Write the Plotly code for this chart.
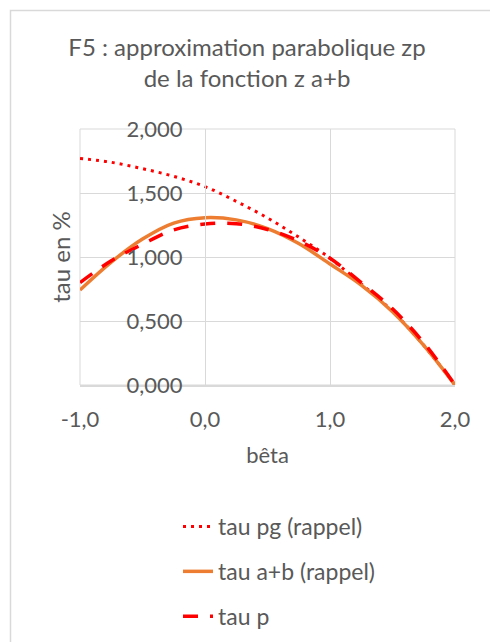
import plotly.graph_objects as go

beta = [-1.0, -0.75, -0.5, -0.25, 0.0, 0.25, 0.5, 0.75, 1.0, 1.25, 1.5, 1.75, 2.0]
tau_pg = [1.770, 1.740, 1.690, 1.630, 1.550, 1.435, 1.305, 1.155, 0.990, 0.790, 0.575, 0.310, 0.000]
tau_ab = [0.742, 0.960, 1.140, 1.265, 1.307, 1.290, 1.222, 1.105, 0.945, 0.780, 0.573, 0.310, 0.000]
tau_p = [0.800, 0.970, 1.100, 1.212, 1.258, 1.260, 1.215, 1.125, 0.990, 0.800, 0.595, 0.330, 0.000]

names = ["tau pg (rappel)", "tau a+b (rappel)", "tau p"]
x_ticks = [-1, 0, 1, 2]
x_ticktext = ["-1,0", "0,0", "1,0", "2,0"]

FONT = "Lato, 'Open Sans', sans-serif"
TXT = "#595959"
GRID = "#d9d9d9"

fig = go.Figure()
fig.add_trace(go.Scatter(x=beta, y=tau_pg, name=names[0], mode="lines",
                         line=dict(color="#FF0000", width=3, dash="3px,5px", shape="spline"),
                         legendgroup="a"))
fig.add_trace(go.Scatter(x=beta, y=tau_ab, name=names[1], mode="lines",
                         line=dict(color="#ED7D31", width=3.5, shape="spline"),
                         legendgroup="b"))
fig.add_trace(go.Scatter(x=beta, y=tau_p, name=names[2], mode="lines",
                         line=dict(color="#FF0000", width=3.5, dash="15px,12px", shape="spline"),
                         legendgroup="c"))

W, H = 490, 642
L, R, T, B = 80, 35, 129, 257
pw, ph = W - L - R, H - T - B

def px_x(px):
    return (px - L) / pw

def px_y(py):
    return (H - B - py) / ph

fig.update_layout(
    width=W, height=H,
    margin=dict(l=L, r=R, t=T, b=B, autoexpand=False),
    paper_bgcolor="white", plot_bgcolor="white",
    separators=", ",
    font=dict(family=FONT, color=TXT, size=22),
    title=dict(text="F5 : approximation parabolique zp<br>de la fonction z a+b",
               x=247 / W, xref="container", xanchor="center",
               y=1 - 56 / H, yref="container", yanchor="top",
               font=dict(size=24, color=TXT, family=FONT)),
    xaxis=dict(range=[-1, 2], tickvals=x_ticks, ticktext=x_ticktext,
               showgrid=True, gridcolor=GRID, gridwidth=1,
               showline=True, linecolor=GRID, linewidth=1.5,
               zeroline=False, ticks="", ticklabelstandoff=14,
               tickfont=dict(size=22, color=TXT),
               title=dict(text="bêta", standoff=16, font=dict(size=22, color=TXT)),
               fixedrange=True),
    yaxis=dict(range=[0, 2], dtick=0.5, tick0=0, tickformat=".3f",
               anchor="free", position=1 / 3,
               showgrid=True, gridcolor=GRID, gridwidth=1,
               showline=True, linecolor=GRID, linewidth=1,
               zeroline=False, ticks="", ticklabelstandoff=18,
               tickfont=dict(size=22, color=TXT),
               title=dict(text="tau en %", standoff=48, font=dict(size=24, color=TXT)),
               fixedrange=True),
    showlegend=True,
    legend=dict(x=px_x(178), xanchor="left", y=px_y(505), yanchor="top",
                orientation="v", tracegroupgap=12,
                font=dict(size=23, color=TXT, family=FONT),
                bgcolor="rgba(0,0,0,0)"),
    shapes=[
        dict(type="rect", xref="paper", yref="paper", layer="below",
             x0=px_x(10.5), x1=px_x(500), y0=px_y(660), y1=px_y(10.5),
             line=dict(color=GRID, width=1.5), fillcolor="rgba(0,0,0,0)"),
        dict(type="rect", xref="paper", yref="paper", layer="below",
             x0=0, x1=1, y0=0, y1=1,
             line=dict(color=GRID, width=1), fillcolor="rgba(0,0,0,0)"),
    ],
)

fig.write_html("out.html")
